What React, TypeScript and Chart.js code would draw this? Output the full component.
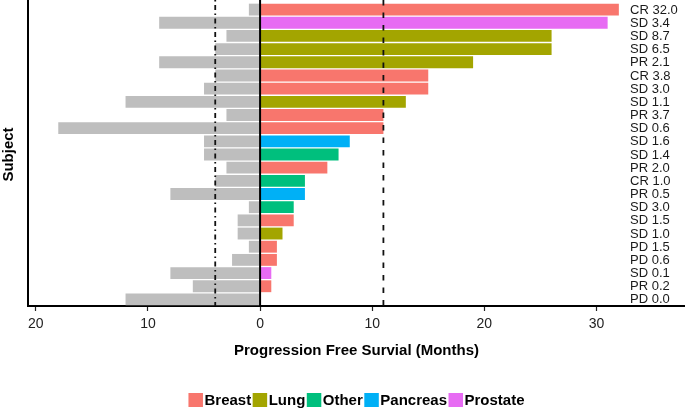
import React, { useEffect, useRef } from "react";
import { Chart, registerables } from "chart.js";

Chart.register(...registerables);

const responseLabels = ["CR 32.0","SD 3.4","SD 8.7","SD 6.5","PR 2.1","CR 3.8","SD 3.0","SD 1.1","PR 3.7","SD 0.6","SD 1.6","SD 1.4","PR 2.0","CR 1.0","PR 0.5","SD 3.0","SD 1.5","SD 1.0","PD 1.5","PD 0.6","SD 0.1","PR 0.2","PD 0.0"];
const subjects = responseLabels.map((_, i) => "Subject " + (i + 1));
const pfsOnStudy = [32, 31, 26, 26, 19, 15, 15, 13, 11, 11, 8, 7, 6, 4, 4, 3, 3, 2, 1.5, 1.5, 1, 1, 0];
const pfsPrior = [1, 9, 3, 4, 9, 4, 5, 12, 3, 18, 5, 5, 3, 4, 8, 1, 2, 2, 1, 2.5, 8, 6, 12];
const cancerType = ["Breast","Prostate","Lung","Lung","Lung","Breast","Breast","Lung","Breast","Breast","Pancreas","Other","Breast","Other","Pancreas","Other","Breast","Lung","Breast","Breast","Prostate","Breast","Breast"];
const legendTypes = ["Breast", "Lung", "Other", "Pancreas", "Prostate"];
const typeColors = ["#F8766D", "#A3A500", "#00BF7D", "#00B0F6", "#E76BF3"];
const xTicks = [-20, -10, 0, 10, 20, 30];
const refLineDotDash = -4;
const refLineDashed = 11;
const labelX = 33;

const FONT = "'Liberation Sans', Arial, sans-serif";

const overlay = {
  id: "overlay",
  afterDatasetsDraw(chart: any) {
    const { ctx, chartArea, scales } = chart;
    const xs = scales.x;
    const ys = scales.y;
    ctx.save();
    const top = 0;
    const bottom = chartArea.bottom;
    ctx.strokeStyle = "#111";
    ctx.lineWidth = 1.8;
    ctx.setLineDash([1.5, 3.5, 5, 3.5]);
    let px = xs.getPixelForValue(refLineDotDash);
    ctx.beginPath();
    ctx.moveTo(px, top);
    ctx.lineTo(px, bottom);
    ctx.stroke();
    ctx.setLineDash([5.5, 7]);
    px = xs.getPixelForValue(refLineDashed);
    ctx.beginPath();
    ctx.moveTo(px, top);
    ctx.lineTo(px, bottom);
    ctx.stroke();
    ctx.setLineDash([]);
    ctx.strokeStyle = "#000";
    ctx.lineWidth = 2;
    px = xs.getPixelForValue(0);
    ctx.beginPath();
    ctx.moveTo(px, top);
    ctx.lineTo(px, bottom);
    ctx.stroke();
    ctx.beginPath();
    ctx.moveTo(chartArea.left, top);
    ctx.lineTo(chartArea.left, bottom + 1);
    ctx.stroke();
    ctx.fillStyle = "#1a1a1a";
    ctx.font = "13px " + FONT;
    ctx.textAlign = "left";
    ctx.textBaseline = "middle";
    const lx = xs.getPixelForValue(labelX);
    responseLabels.forEach((t, i) => {
      ctx.fillText(t, lx, ys.getPixelForValue(i) + 0.5);
    });
    ctx.restore();
  },
  afterDraw(chart: any) {
    const { ctx, chartArea } = chart;
    ctx.save();
    ctx.font = "bold 15px " + FONT;
    ctx.textBaseline = "middle";
    ctx.textAlign = "left";
    const key = 14.5;
    const gapKeyText = 1.5;
    const gapItem = 1.5;
    let total = 0;
    legendTypes.forEach((t, i) => {
      total += key + gapKeyText + ctx.measureText(t).width;
      if (i < legendTypes.length - 1) total += gapItem;
    });
    const cx = (chartArea.left + chartArea.right) / 2;
    let x = cx - total / 2;
    const yc = 400;
    legendTypes.forEach((t, i) => {
      ctx.fillStyle = typeColors[i];
      ctx.fillRect(x, yc - 7, key, 14);
      x += key + gapKeyText;
      ctx.fillStyle = "#000";
      ctx.fillText(t, x, yc + 0.5);
      x += ctx.measureText(t).width + gapItem;
    });
    ctx.restore();
  },
};

export default function App() {
  const ref = useRef<HTMLCanvasElement | null>(null);
  useEffect(() => {
    document.body.style.margin = "0";
    const canvas = ref.current;
    if (!canvas) return;
    const chart = new Chart(canvas, {
      type: "bar",
      data: {
        labels: subjects,
        datasets: [
          {
            label: "Prior",
            data: pfsPrior.map((v) => -v),
            backgroundColor: "#BEBEBE",
            borderWidth: 0,
            barPercentage: 0.9,
            categoryPercentage: 1,
          },
          {
            label: "On study",
            data: pfsOnStudy,
            backgroundColor: cancerType.map((t) => typeColors[legendTypes.indexOf(t)]),
            borderWidth: 0,
            barPercentage: 0.9,
            categoryPercentage: 1,
          },
        ],
      },
      options: {
        indexAxis: "y",
        responsive: false,
        animation: false,
        layout: { padding: { top: 3, bottom: 40, left: 0, right: 0 } },
        plugins: { legend: { display: false }, tooltip: { enabled: false } },
        scales: {
          x: {
            type: "linear",
            stacked: true,
            min: -20.7,
            max: 37.9,
            afterBuildTicks: (scale: any) => {
              scale.ticks = xTicks.map((v) => ({ value: v }));
            },
            afterFit: (scale: any) => {
              scale.height = 64;
            },
            ticks: {
              callback: (v: any) => String(Math.abs(Number(v))),
              color: "#222",
              font: { family: FONT, size: 14 },
              padding: 5,
              maxRotation: 0,
              autoSkip: false,
            },
            grid: {
              display: true,
              drawOnChartArea: false,
              drawTicks: true,
              tickLength: 5,
              tickColor: "#222",
              tickWidth: 1.2,
            },
            border: { display: true, color: "#000", width: 2 },
            title: {
              display: true,
              text: "Progression Free Survial (Months)",
              color: "#000",
              font: { family: FONT, size: 15, weight: "bold" },
              padding: { top: 0, bottom: 10 },
            },
          },
          y: {
            type: "category",
            stacked: true,
            offset: true,
            afterFit: (scale: any) => {
              scale.width = 28;
            },
            ticks: { display: false },
            grid: { display: false, drawTicks: false },
            border: { display: false },
            title: {
              display: true,
              text: "Subject",
              color: "#000",
              font: { family: FONT, size: 15, weight: "bold" },
              padding: { top: 0, bottom: 0 },
            },
          },
        },
      },
      plugins: [overlay],
    } as any);
    return () => chart.destroy();
  }, []);
  return (
    <div style={{ width: 685, height: 410, background: "#fff" }}>
      <canvas ref={ref} width={685} height={410} style={{ display: "block" }} />
    </div>
  );
}
